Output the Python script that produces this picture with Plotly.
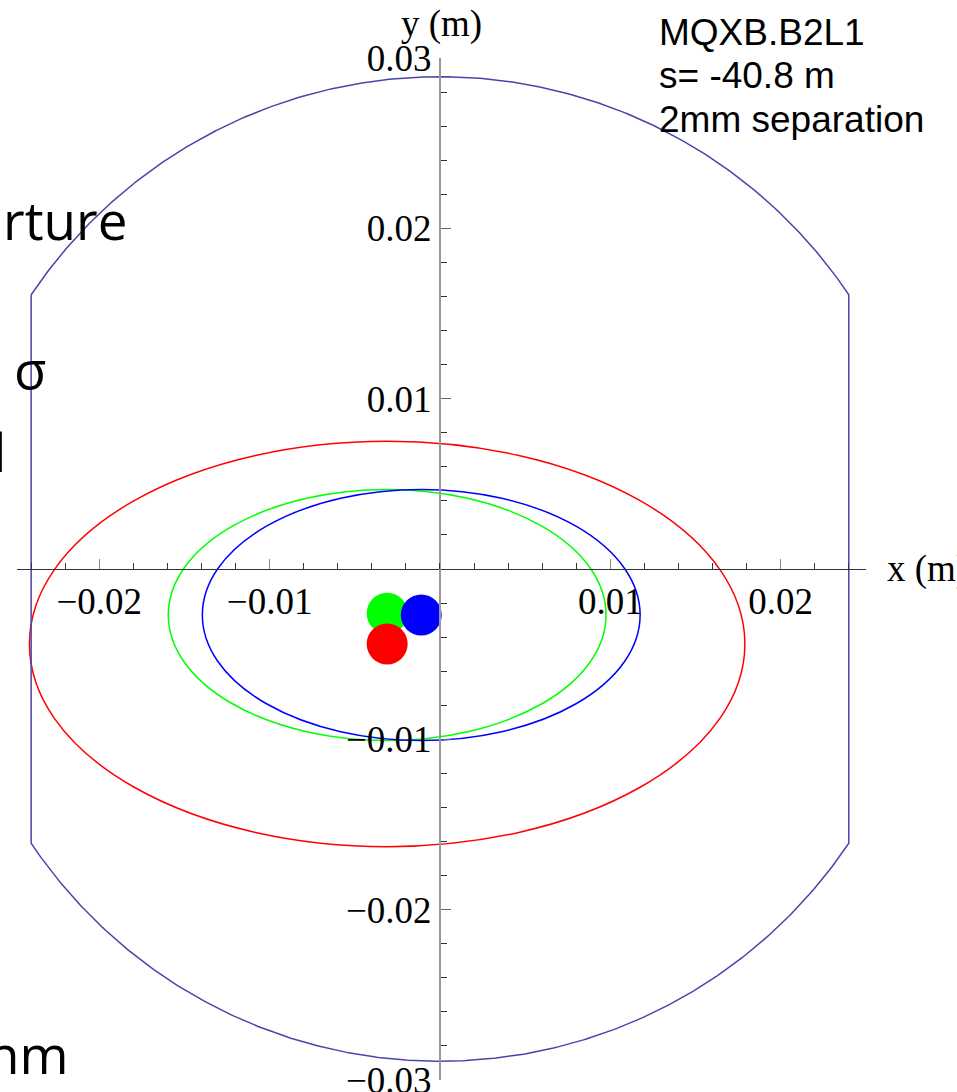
import numpy as np
import plotly.graph_objects as go

# ---------------- data ----------------
# aperture (rect-ellipse): half width and radius, metres
APERTURE_HALF_WIDTH = 0.024
APERTURE_RADIUS = 0.0289

# beam envelopes (ellipses): name, centre x, centre y, semi-axis x, semi-axis y
ELLIPSE_NAMES = ["red", "green", "blue"]
ELLIPSE_CX = [-0.0031, -0.0031, -0.0011]
ELLIPSE_CY = [-0.0044, -0.0027, -0.0027]
ELLIPSE_A = [0.0210, 0.01285, 0.01285]
ELLIPSE_B = [0.0119, 0.00737, 0.00737]
ELLIPSE_COLORS = ["#ff0000", "#00ff00", "#0000ff"]

# beam centres (dots), drawn in this order
DOT_X = [-0.0031, -0.0011, -0.0031]
DOT_Y = [-0.0026, -0.0027, -0.0044]
DOT_COLORS = ["#00ff00", "#0000ff", "#ff0000"]

X_TICKS = [-0.02, -0.01, 0.01, 0.02]
X_TICK_LABELS = ["\u22120.02", "\u22120.01", "0.01", "0.02"]
Y_TICKS = [-0.03, -0.02, -0.01, 0.01, 0.02, 0.03]
Y_TICK_LABELS = ["\u22120.03", "\u22120.02", "\u22120.01", "0.01", "0.02", "0.03"]

INFO_LINES = ["MQXB.B2L1", "s= -40.8 m", "2mm separation"]

# ---------------- layout constants ----------------
W, H = 957, 1092
X_RANGE = [-0.02483, 0.02501]
Y_RANGE = [-0.03, 0.03]
X_DOM = [17 / W, 866 / W]
Y_DOM = [1 - 1080 / H, 1 - 58 / H]

xpos0 = X_DOM[0] + (0 - X_RANGE[0]) / (X_RANGE[1] - X_RANGE[0]) * (X_DOM[1] - X_DOM[0])
ypos0 = Y_DOM[0] + (0 - Y_RANGE[0]) / (Y_RANGE[1] - Y_RANGE[0]) * (Y_DOM[1] - Y_DOM[0])

# aperture outline from its two parameters
hw, R = APERTURE_HALF_WIDTH, APERTURE_RADIUS
xs = np.linspace(-hw, hw, 300)
top = np.sqrt(R ** 2 - xs ** 2)
ap_x = np.concatenate([xs, xs[::-1], [xs[0]]])
ap_y = np.concatenate([top, -top[::-1], [top[0]]])

fig = go.Figure()
fig.add_trace(go.Scatter(x=ap_x, y=ap_y, mode="lines",
                         line=dict(color="#4646aa", width=1.5),
                         hoverinfo="skip", showlegend=False))

for cx, cy, a, b, c in zip(ELLIPSE_CX, ELLIPSE_CY, ELLIPSE_A, ELLIPSE_B, ELLIPSE_COLORS):
    fig.add_shape(type="circle", xref="x", yref="y",
                  x0=cx - a, x1=cx + a, y0=cy - b, y1=cy + b,
                  line=dict(color=c, width=1.5), layer="below")

for x, y, c in zip(DOT_X, DOT_Y, DOT_COLORS):
    fig.add_trace(go.Scatter(x=[x], y=[y], mode="markers",
                             marker=dict(color=c, size=41, line=dict(width=0)),
                             hoverinfo="skip", showlegend=False))

serif = "Liberation Serif"
TICK_FONT = dict(family=serif, size=37, color="black")
fig.update_layout(
    width=W, height=H,
    margin=dict(l=0, r=0, t=0, b=0, pad=0, autoexpand=False),
    paper_bgcolor="white", plot_bgcolor="white",
    showlegend=False,
    xaxis=dict(domain=X_DOM, range=X_RANGE, anchor="free", position=ypos0,
               automargin=False, ticklabeloverflow="allow",
               showgrid=False, zeroline=False, showline=True,
               linecolor="#333333", linewidth=1,
               ticks="inside", ticklen=10, tickwidth=1.2, tickcolor="#888888",
               tickvals=X_TICKS, ticktext=X_TICK_LABELS,
               tickfont=TICK_FONT,
               minor=dict(dtick=0.002, ticks="inside", ticklen=6, tickwidth=1,
                          tickcolor="#333333", showgrid=False),
               fixedrange=True),
    yaxis=dict(domain=Y_DOM, range=Y_RANGE, anchor="free", position=xpos0,
               automargin=False, ticklabeloverflow="allow",
               showgrid=False, zeroline=False, showline=True,
               linecolor="#999999", linewidth=2,
               ticks="inside", ticklen=10, tickwidth=1.2, tickcolor="#666666",
               tickvals=Y_TICKS, ticktext=Y_TICK_LABELS,
               tickfont=TICK_FONT,
               minor=dict(dtick=0.002, ticks="inside", ticklen=6, tickwidth=1,
                          tickcolor="#333333", showgrid=False),
               fixedrange=True),
)

ann = []
# axis titles
ann.append(dict(text="y (m)", xref="paper", yref="paper", x=441 / W, y=1 - 24 / H,
                xanchor="center", yanchor="middle", showarrow=False,
                font=dict(family=serif, size=37, color="black")))
ann.append(dict(text="x (m)", xref="paper", yref="paper", x=885 / W, y=1 - 569 / H,
                xanchor="left", yanchor="middle", showarrow=False,
                font=dict(family=serif, size=37, color="black")))
# info text
for i, t in enumerate(INFO_LINES):
    ann.append(dict(text=t, xref="paper", yref="paper", x=657 / W, y=1 - (32.5 + 43.5 * i) / H,
                    xanchor="left", yanchor="middle", showarrow=False,
                    font=dict(family="Liberation Sans", size=37, color="black")))
# partially visible slide text on the left
left_texts = [("rture", 1, 220), ("\u03c3", 12, 368), ("l", -9, 452), ("nm", -15, 1053)]
for t, px, py in left_texts:
    ann.append(dict(text=t, xref="paper", yref="paper", x=px / W, y=1 - py / H,
                    xanchor="left", yanchor="middle", showarrow=False,
                    font=dict(family="Open Sans", size=53, color="black")))
fig.update_layout(annotations=ann)

fig.write_html("out.html", config=dict(displayModeBar=False),
               post_script="document.body.style.margin='0px';document.body.style.overflow='hidden';")
